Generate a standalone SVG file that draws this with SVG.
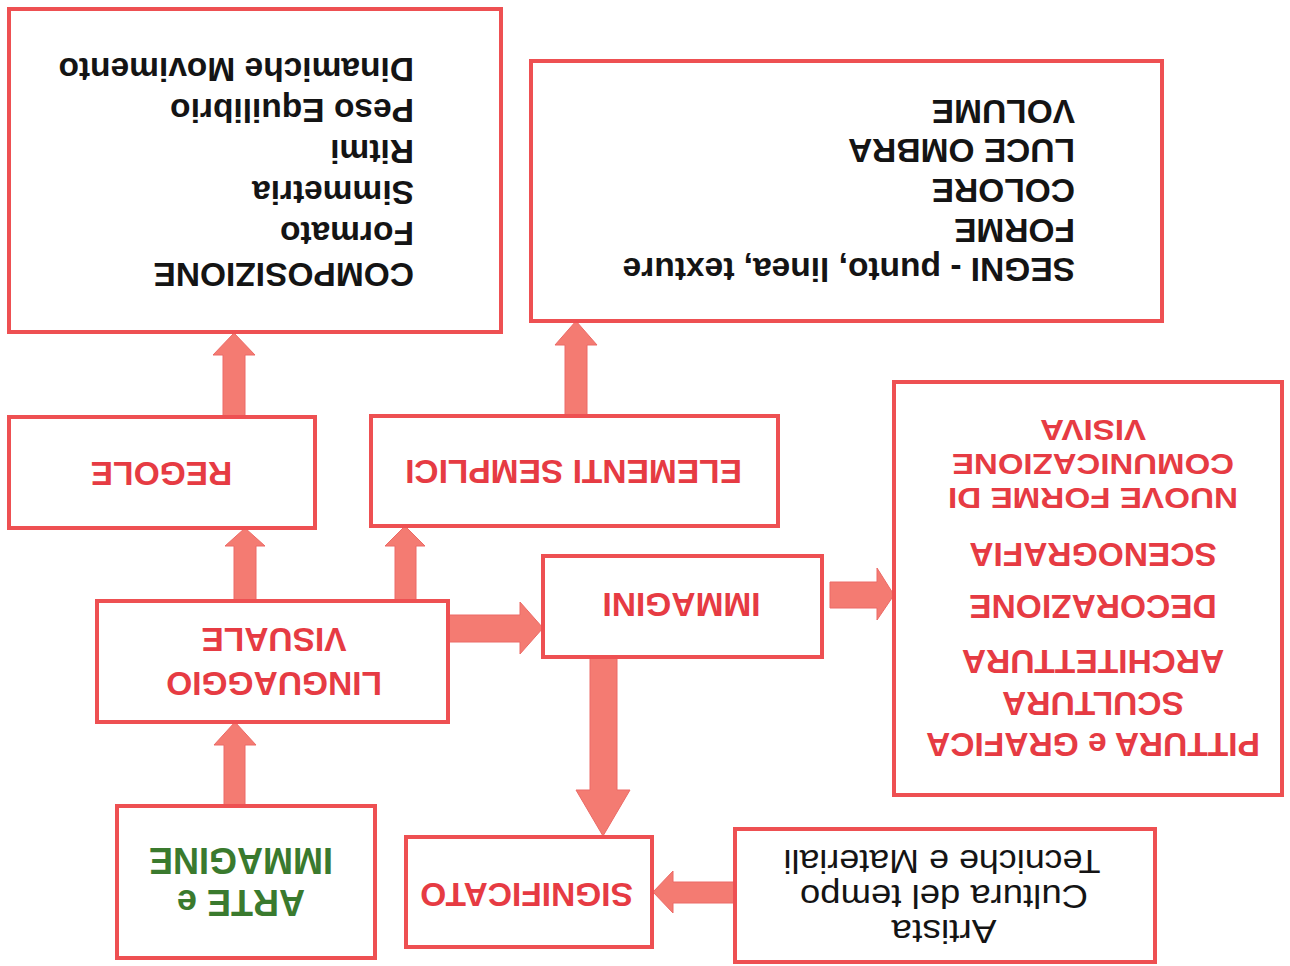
<svg xmlns="http://www.w3.org/2000/svg" width="1290" height="966" viewBox="0 0 1290 966">
<style>
.box{fill:#ffffff;stroke:#ee5052;stroke-width:4}
.arr{fill:#f47b72;stroke:#ec6a66;stroke-width:1}
.t{font-family:"Liberation Sans",Arial,sans-serif;font-size:33.5px;font-weight:bold}
.blk{fill:#141414}
.red{fill:#e63b43}
.grn{fill:#3a7a2e;font-size:36px}
.reg{font-weight:normal;font-size:33px}
.sm{font-size:30px}
.mid{text-anchor:middle}
</style>
<rect width="1290" height="966" fill="#ffffff"/>
<g id="connectors">
<polygon class="arr" points="223,417 245,417 245,355 255,355 234,333 213,355 223,355"/>
<polygon class="arr" points="565,416 587,416 587,345 597,345 576,321 555,345 565,345"/>
<polygon class="arr" points="234,601 256,601 256,546 265,546 245,528 225,546 234,546"/>
<polygon class="arr" points="395,601 416,601 416,546 425,546 405,526 385,546 395,546"/>
<polygon class="arr" points="448,615 520,615 520,602 543,628 520,654 520,642 448,642"/>
<polygon class="arr" points="830,582 877,582 877,568 894,595 877,620 877,608 830,608"/>
<polygon class="arr" points="590,657 617,657 617,790 630,790 603,836 576,790 590,790"/>
<polygon class="arr" points="224,806 245,806 245,745 256,745 235,722 214,745 224,745"/>
<polygon class="arr" points="735,882 735,903 673,903 673,913 653,892 673,871 673,882"/>
</g>
<g id="n_composizione">
<rect class="box" x="9" y="9" width="492" height="323"/>
<g transform="rotate(180 645 483)" class="t blk">
<text x="876" y="703">COMPOSIZIONE</text>
<text x="876" y="744">Formato</text>
<text x="876" y="785">Simmetria</text>
<text x="876" y="826">Ritmi</text>
<text x="876" y="867">Peso Equilibrio</text>
<text x="876" y="908">Dinamiche Movimento</text>
</g>
</g>
<g id="n_segni">
<rect class="box" x="531" y="61" width="631" height="260"/>
<g transform="rotate(180 645 483)" class="t blk">
<text x="215" y="708">SEGNI - punto, linea, texture</text>
<text x="215" y="747">FORME</text>
<text x="215" y="787">COLORE</text>
<text x="215" y="827">LUCE OMBRA</text>
<text x="215" y="866">VOLUME</text>
</g>
</g>
<g id="n_regole">
<rect class="box" x="9" y="417" width="306" height="111"/>
<text transform="rotate(180 645 483)" class="t red mid" x="1128.5" y="504">REGOLE</text>
</g>
<g id="n_elementi">
<rect class="box" x="371" y="416" width="407" height="110"/>
<text transform="rotate(180 645 483)" class="t red mid" x="716.5" y="506">ELEMENTI SEMPLICI</text>
</g>
<g id="n_linguaggio">
<rect class="box" x="97" y="601" width="351" height="121"/>
<g transform="rotate(180 645 483)" class="t red mid">
<text x="1016" y="294">LINGUAGGIO</text>
<text x="1016" y="338">VISUALE</text>
</g>
</g>
<g id="n_immagini">
<rect class="box" x="543" y="556" width="279" height="101"/>
<text transform="rotate(180 645 483)" class="t red mid" x="608.5" y="373">IMMAGINI</text>
</g>
<g id="n_forme">
<rect class="box" x="894" y="382" width="388" height="413"/>
<g transform="rotate(180 645 483)" class="t red mid">
<text x="197" y="233">PITTURA e GRAFICA</text>
<text x="197" y="274">SCULTURA</text>
<text x="197" y="316">ARCHITETTURA</text>
<text x="197" y="371">DECORAZIONE</text>
<text x="197" y="423">SCENOGRAFIA</text>
<text class="sm" x="197" y="478" textLength="290" lengthAdjust="spacingAndGlyphs">NUOVE FORME DI</text>
<text class="sm" x="197" y="512" textLength="282" lengthAdjust="spacingAndGlyphs">COMUNICAZIONE</text>
<text class="sm" x="197" y="546" textLength="106" lengthAdjust="spacingAndGlyphs">VISIVA</text>
</g>
</g>
<g id="n_arte">
<rect class="box" x="117" y="806" width="258" height="152"/>
<g transform="rotate(180 645 483)" class="t grn mid">
<text x="1049" y="76">ARTE e</text>
<text x="1049" y="118">IMMAGINE</text>
</g>
</g>
<g id="n_significato">
<rect class="box" x="406" y="837" width="246" height="110"/>
<text transform="rotate(180 645 483)" class="t red mid" x="763.5" y="83">SIGNIFICATO</text>
</g>
<g id="n_artista">
<rect class="box" x="735" y="829" width="420" height="133"/>
<g transform="rotate(180 645 483)" class="t blk mid reg">
<text x="346" y="46" textLength="105" lengthAdjust="spacingAndGlyphs">Artista</text>
<text x="346" y="81" textLength="288" lengthAdjust="spacingAndGlyphs">Cultura del tempo</text>
<text x="348" y="116" textLength="317" lengthAdjust="spacingAndGlyphs">Tecniche e Materiali</text>
</g>
</g>
</svg>
